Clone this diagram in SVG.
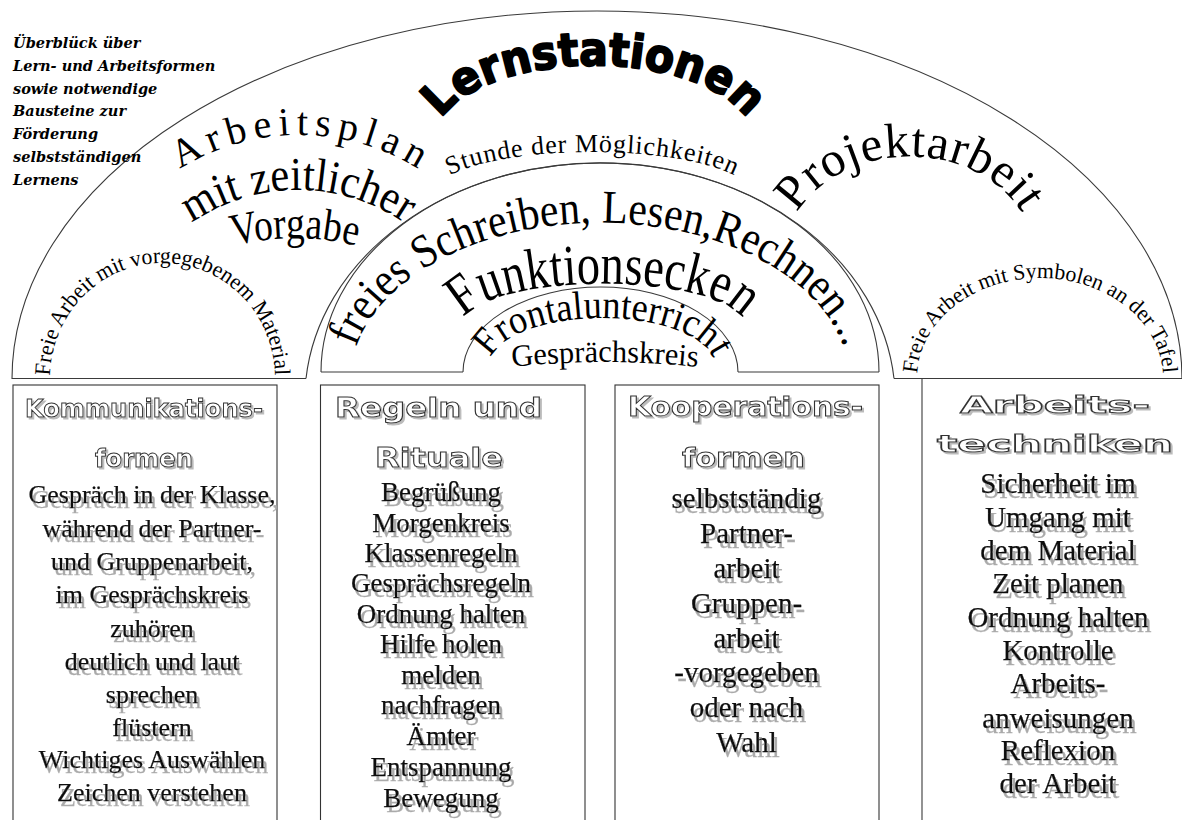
<svg xmlns="http://www.w3.org/2000/svg" width="1182" height="820" viewBox="0 0 1182 820">
<style>
.ln{fill:none;stroke:#3a3a3a;stroke-width:1.1}
.bx{fill:none;stroke:#333;stroke-width:1.1}
.arc{font-family:"Liberation Serif","Times New Roman",serif;fill:#000}
.hd{font-family:"DejaVu Sans","Liberation Sans",sans-serif;font-weight:bold;fill:#fff;stroke:#333;stroke-width:1}
.body{font-family:"Liberation Serif","Times New Roman",serif;fill:#111;text-anchor:middle;stroke:#111;stroke-width:0.25}
.cap{font-family:"DejaVu Serif","Liberation Serif",serif;font-weight:bold;font-style:italic;font-size:14.5px;fill:#000}
</style>
<defs>
<filter id="sh" x="-10%" y="-30%" width="120%" height="180%">
<feOffset in="SourceAlpha" dx="2.5" dy="5" result="o"/>
<feGaussianBlur in="o" stdDeviation="0.7" result="b"/>
<feFlood flood-color="#aaaaaa"/>
<feComposite in2="b" operator="in" result="s"/>
<feMerge><feMergeNode in="s"/><feMergeNode in="SourceGraphic"/></feMerge>
</filter>
<filter id="sh2" x="-10%" y="-30%" width="120%" height="180%">
<feOffset in="SourceAlpha" dx="1.5" dy="1.5" result="o"/>
<feFlood flood-color="#bbbbbb"/>
<feComposite in2="o" operator="in" result="s"/>
<feMerge><feMergeNode in="s"/><feMergeNode in="SourceGraphic"/></feMerge>
</filter>
<path id="pLern" d="M 443.2 116 A 160 76 0 0 1 744.8 116"/>
<path id="pArb" d="M 180 169 A 225 225 0 0 1 418 169"/>
<path id="pMit" d="M 191 223.4 A 188 188 0 0 1 405 223.4"/>
<path id="pVor" d="M 233 246 A 250 250 0 0 1 357 246"/>
<path id="pStu" d="M 450 175.2 A 160 43 0 0 1 734 175.2"/>
<path id="pPro" d="M 797 213 A 125 100 0 0 1 1022 213"/>
<path id="pFre" d="M 356.1 346.9 A 250 159 0 0 1 843.9 346.9"/>
<path id="pFun" d="M 466 315.8 A 140.5 41.2 0 0 1 740 315.8"/>
<path id="pFro" d="M 492.1 356 A 112 47 0 0 1 711.9 356"/>
<path id="pGes" d="M 511 367 A 900 900 0 0 1 699 367"/>
<path id="pFA1" d="M 50 378 A 112.5 115 0 0 1 275 378"/>
<path id="pFA2" d="M 917 378 A 123 100 0 0 1 1163 378"/>
</defs>
<rect width="1182" height="820" fill="#fff"/>

<g id="frame">
<path class="ln" d="M 12 379 A 585 368 0 0 1 1182 379"/>
<path class="ln" d="M 12 378.5 H 306"/>
<path class="ln" d="M 894 378.5 H 1182"/>
<path class="ln" d="M 306 378.5 A 295.2 237 0 0 1 894 378.5"/>
<path class="ln" d="M 321 372 A 279 209 0 0 1 879 372"/>
<path class="ln" d="M 321 372 H 463"/>
<path class="ln" d="M 738 372 H 879"/>
<path class="ln" d="M 463 372 A 137.5 85 0 0 1 738 372"/>
<path class="ln" d="M 922 378.5 V 820"/>
</g>

<g id="caption">
<text class="cap" x="13" y="48">Überblück über</text>
<text class="cap" x="13" y="71">Lern- und Arbeitsformen</text>
<text class="cap" x="13" y="93.5">sowie notwendige</text>
<text class="cap" x="13" y="116">Bausteine zur</text>
<text class="cap" x="13" y="139">Förderung</text>
<text class="cap" x="13" y="162">selbstständigen</text>
<text class="cap" x="13" y="185">Lernens</text>
</g>

<g id="lernstationen">
<text font-family="DejaVu Sans, Liberation Sans, sans-serif" font-weight="bold" font-size="46" fill="#000" stroke="#000" stroke-width="2" stroke-linejoin="round" text-anchor="middle"><textPath href="#pLern" startOffset="50%" textLength="334" lengthAdjust="spacingAndGlyphs">Lernstationen</textPath></text>
</g>
<g id="arbeitsplan">
<text class="arc" font-size="40" text-anchor="middle"><textPath href="#pArb" startOffset="50%" textLength="251" lengthAdjust="spacing">Arbeitsplan</textPath></text>
<text class="arc" font-size="47" text-anchor="middle"><textPath href="#pMit" startOffset="50%" textLength="226" lengthAdjust="spacingAndGlyphs">mit zeitlicher</textPath></text>
<text class="arc" font-size="45" text-anchor="middle"><textPath href="#pVor" startOffset="50%" textLength="124" lengthAdjust="spacingAndGlyphs">Vorgabe</textPath></text>
</g>
<g id="stunde">
<text class="arc" font-size="26" text-anchor="middle"><textPath href="#pStu" startOffset="50%" textLength="290" lengthAdjust="spacing">Stunde der Möglichkeiten</textPath></text>
</g>
<g id="projektarbeit">
<text class="arc" font-size="49" text-anchor="middle"><textPath href="#pPro" startOffset="50%" textLength="262" lengthAdjust="spacing">Projektarbeit</textPath></text>
</g>
<g id="freies">
<text class="arc" font-size="47" text-anchor="middle"><textPath href="#pFre" startOffset="50%" textLength="580" lengthAdjust="spacingAndGlyphs">freies Schreiben, Lesen,Rechnen...</textPath></text>
</g>
<g id="funktionsecken">
<text class="arc" font-size="58" text-anchor="middle"><textPath href="#pFun" startOffset="50%" textLength="294" lengthAdjust="spacingAndGlyphs">Funktionsecken</textPath></text>
</g>
<g id="frontalunterricht">
<text class="arc" font-size="40" text-anchor="middle"><textPath href="#pFro" startOffset="50%" textLength="246" lengthAdjust="spacingAndGlyphs">Frontalunterricht</textPath></text>
</g>
<g id="gespraechskreis">
<text class="arc" font-size="31" text-anchor="middle"><textPath href="#pGes" startOffset="50%" textLength="186" lengthAdjust="spacingAndGlyphs">Gesprächskreis</textPath></text>
</g>
<g id="freiearbeit1">
<text class="arc" font-size="22.5" text-anchor="middle"><textPath href="#pFA1" startOffset="50%" textLength="352" lengthAdjust="spacingAndGlyphs">Freie Arbeit mit vorgegebenem Material</textPath></text>
</g>
<g id="freiearbeit2">
<text class="arc" font-size="22" text-anchor="middle"><textPath href="#pFA2" startOffset="50%" textLength="342" lengthAdjust="spacingAndGlyphs">Freie Arbeit mit Symbolen an der Tafel</textPath></text>
</g>

<g id="box-kommunikation">
<rect class="bx" x="13" y="385" width="264" height="445"/>
<g filter="url(#sh2)">
<text class="hd" font-size="25" x="144" y="417" text-anchor="middle" textLength="238" lengthAdjust="spacingAndGlyphs">Kommunikations-</text>
<text class="hd" font-size="25" x="144" y="467" text-anchor="middle" textLength="98" lengthAdjust="spacingAndGlyphs">formen</text>
</g>
<g class="body" font-size="26" filter="url(#sh)">
<text x="152" y="503">Gespräch in der Klasse,</text>
<text x="152" y="536.5">während der Partner-</text>
<text x="152" y="570">und Gruppenarbeit,</text>
<text x="152" y="603">im Gesprächskreis</text>
<text x="152" y="636.5">zuhören</text>
<text x="152" y="670">deutlich und laut</text>
<text x="152" y="703">sprechen</text>
<text x="152" y="735.5">flüstern</text>
<text x="152" y="768">Wichtiges Auswählen</text>
<text x="152" y="801">Zeichen verstehen</text>
</g>
</g>

<g id="box-regeln">
<rect class="bx" x="320.5" y="385" width="264.5" height="445"/>
<g filter="url(#sh2)">
<text class="hd" font-size="27" x="438.5" y="417" text-anchor="middle" textLength="207" lengthAdjust="spacingAndGlyphs">Regeln und</text>
<text class="hd" font-size="27" x="439" y="467" text-anchor="middle" textLength="128" lengthAdjust="spacingAndGlyphs">Rituale</text>
</g>
<g class="body" font-size="27" filter="url(#sh)">
<text x="441" y="500.5">Begrüßung</text>
<text x="441" y="531.5">Morgenkreis</text>
<text x="441" y="561.7">Klassenregeln</text>
<text x="441" y="592">Gesprächsregeln</text>
<text x="441" y="622.7">Ordnung halten</text>
<text x="441" y="653.3">Hilfe holen</text>
<text x="441" y="684">melden</text>
<text x="441" y="714.3">nachfragen</text>
<text x="441" y="745">Ämter</text>
<text x="441" y="775.7">Entspannung</text>
<text x="441" y="806.5">Bewegung</text>
</g>
</g>

<g id="box-kooperation">
<rect class="bx" x="615" y="385" width="264" height="445"/>
<g filter="url(#sh2)">
<text class="hd" font-size="26" x="745.5" y="416" text-anchor="middle" textLength="235" lengthAdjust="spacingAndGlyphs">Kooperations-</text>
<text class="hd" font-size="26" x="743.5" y="467" text-anchor="middle" textLength="123" lengthAdjust="spacingAndGlyphs">formen</text>
</g>
<g class="body" font-size="29" filter="url(#sh)">
<text x="746.5" y="508.3">selbstständig</text>
<text x="746.5" y="543.1">Partner-</text>
<text x="746.5" y="577.9">arbeit</text>
<text x="746.5" y="612.7">Gruppen-</text>
<text x="746.5" y="647.5">arbeit</text>
<text x="746.5" y="682.3">-vorgegeben</text>
<text x="746.5" y="717.1">oder nach</text>
<text x="746.5" y="751.9">Wahl</text>
</g>
</g>

<g id="box-arbeitstechniken">
<g filter="url(#sh2)">
<text class="hd" font-size="23" x="1055" y="413" text-anchor="middle" textLength="190" lengthAdjust="spacingAndGlyphs">Arbeits-</text>
<text class="hd" font-size="23" x="1055" y="452" text-anchor="middle" textLength="236" lengthAdjust="spacingAndGlyphs">techniken</text>
</g>
<g class="body" font-size="29" filter="url(#sh)">
<text x="1058" y="493.3">Sicherheit im</text>
<text x="1058" y="526.7">Umgang mit</text>
<text x="1058" y="560">dem Material</text>
<text x="1058" y="593.3">Zeit planen</text>
<text x="1058" y="626.7">Ordnung halten</text>
<text x="1058" y="660">Kontrolle</text>
<text x="1058" y="693.3">Arbeits-</text>
<text x="1058" y="728.3">anweisungen</text>
<text x="1058" y="760">Reflexion</text>
<text x="1058" y="793.3">der Arbeit</text>
</g>
</g>
</svg>
